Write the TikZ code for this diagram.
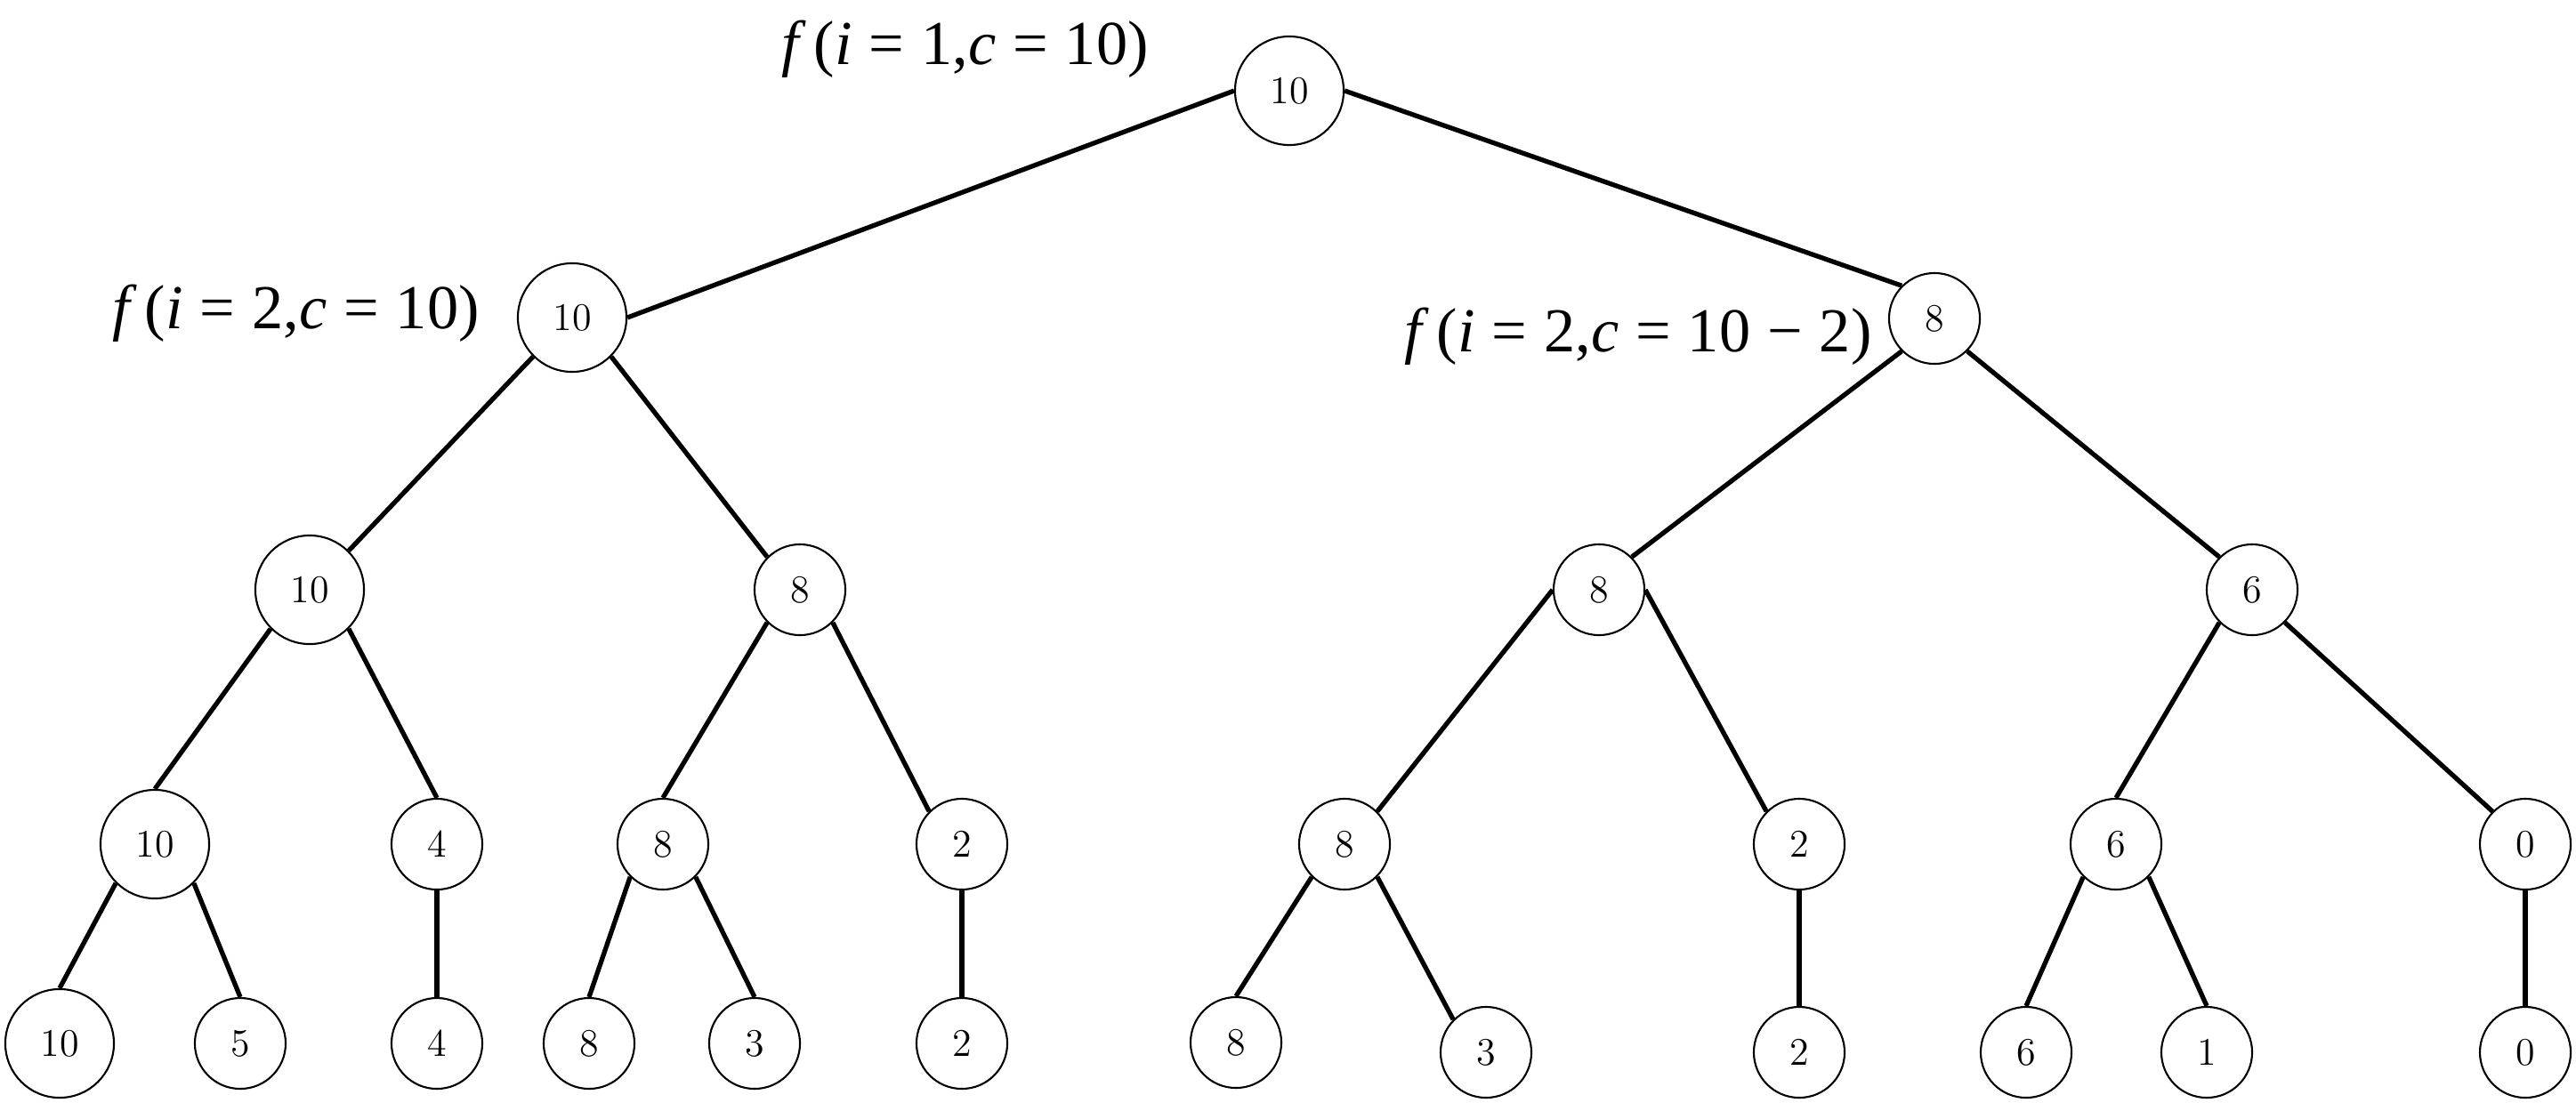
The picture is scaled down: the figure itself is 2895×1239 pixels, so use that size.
\documentclass[tikz,border=0pt]{standalone}
\usepackage{fontspec}
\newfontfamily\labfont{Liberation Serif}
\newcommand{\eqsp}{\hspace{0.27em}=\hspace{0.27em}}
\begin{document}
\begin{tikzpicture}[x=0.01cm,y=-0.01cm,
  nd/.style={circle,draw,line width=0.6pt,inner sep=0pt,font=\fontsize{12.5}{14}\selectfont},
  big/.style={nd,minimum size=1.22cm},
  small/.style={nd,minimum size=1.02cm},
  edge/.style={line width=1.5pt},
  lab/.style={anchor=base west,inner sep=0pt,font=\labfont\fontsize{20}{24}\selectfont}]
\useasboundingbox (0,0) rectangle (2895,1239);
% level 0
\node[big] (n0) at (1449,102) {10};
% level 1
\node[big] (n1) at (643,357) {10};
\node[small] (n2) at (2174,358) {8};
% level 2
\node[big] (n3) at (348,663) {10};
\node[small] (n4) at (899,663) {8};
\node[small] (n5) at (1797,663) {8};
\node[small] (n6) at (2531,663) {6};
% level 3
\node[big] (n7) at (174,949) {10};
\node[small] (n8) at (491,949) {4};
\node[small] (n9) at (745,949) {8};
\node[small] (n10) at (1081,949) {2};
\node[small] (n11) at (1511,949) {8};
\node[small] (n12) at (2022,949) {2};
\node[small] (n13) at (2378,949) {6};
\node[small] (n14) at (2838,949) {0};
% level 4
\node[big] (n15) at (67,1173) {10};
\node[small] (n16) at (270,1173) {5};
\node[small] (n17) at (491,1173) {4};
\node[small] (n18) at (662,1173) {8};
\node[small] (n19) at (848,1173) {3};
\node[small] (n20) at (1081,1173) {2};
\node[small] (n21) at (1389,1172) {8};
\node[small] (n22) at (1670,1183) {3};
\node[small] (n23) at (2022,1183) {2};
\node[small] (n24) at (2277,1183) {6};
\node[small] (n25) at (2480,1183) {1};
\node[small] (n26) at (2838,1183) {0};
% labels
\node[lab] (l1) at (878,72) {\textit{f}\hspace{0.12em}(\textit{i}\eqsp 1,\textit{c}\eqsp 10)};
\node[lab] (l2) at (126,369) {\textit{f}\hspace{0.12em}(\textit{i}\eqsp 2,\textit{c}\eqsp 10)};
\node[lab] (l3) at (1578,395) {\textit{f}\hspace{0.12em}(\textit{i}\eqsp 2,\textit{c}\eqsp 10\hspace{0.27em}−\hspace{0.27em}2)};
% edges
\draw[edge] (n0.west) -- (n1.east);
\draw[edge] (n0.east) -- (n2.north west);
\draw[edge] (n1.south west) -- (n3.north east);
\draw[edge] (n1.south east) -- (n4.north west);
\draw[edge] (n2.south west) -- (n5.north east);
\draw[edge] (n2.south east) -- (n6.north west);
\draw[edge] (n3.south west) -- (n7.north);
\draw[edge] (n3.south east) -- (n8.north);
\draw[edge] (n4.south west) -- (n9.north);
\draw[edge] (n4.south east) -- (n10.north west);
\draw[edge] (n5.west) -- (n11.north east);
\draw[edge] (n5.east) -- (n12.north west);
\draw[edge] (n6.south west) -- (n13.north);
\draw[edge] (n6.south east) -- (n14.north west);
\draw[edge] (n7.south west) -- (n15.north);
\draw[edge] (n7.south east) -- (n16.north);
\draw[edge] (n8.south) -- (n17.north);
\draw[edge] (n9.south west) -- (n18.north);
\draw[edge] (n9.south east) -- (n19.north);
\draw[edge] (n10.south) -- (n20.north);
\draw[edge] (n11.south west) -- (n21.north);
\draw[edge] (n11.south east) -- (n22.north west);
\draw[edge] (n12.south) -- (n23.north);
\draw[edge] (n13.south west) -- (n24.north);
\draw[edge] (n13.south east) -- (n25.north);
\draw[edge] (n14.south) -- (n26.north);
\end{tikzpicture}
\end{document}
